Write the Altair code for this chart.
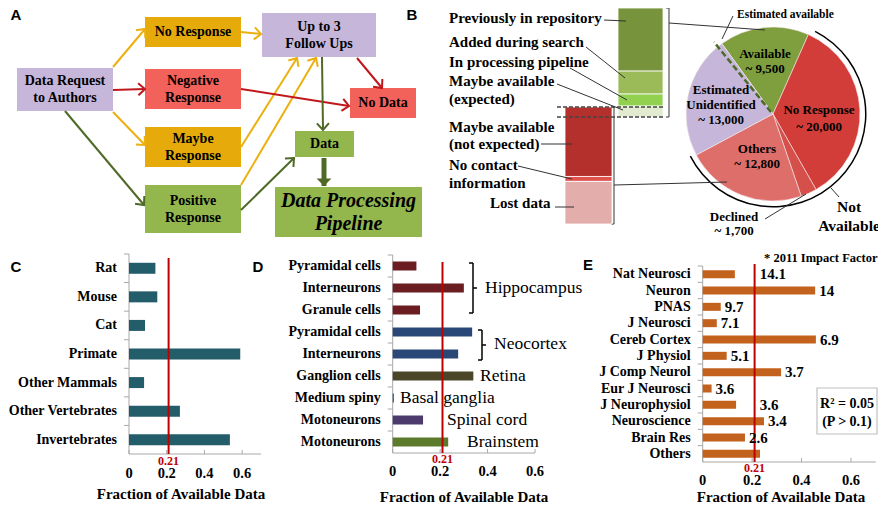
import math
import altair as alt
import pandas as pd

SERIF = "Liberation Serif"
SANS = "Liberation Sans"

# ------------------------------------------------------------------ data
c_species = ["Rat", "Mouse", "Cat", "Primate", "Other Mammals", "Other Vertebrates", "Invertebrates"]
c_fraction = [0.14, 0.15, 0.085, 0.59, 0.08, 0.27, 0.535]

d_cells = ["Pyramidal cells", "Interneurons", "Granule cells", "Pyramidal cells", "Interneurons",
           "Ganglion cells", "Medium spiny", "Motoneurons", "Motoneurons"]
d_region = ["Hippocampus", "Hippocampus", "Hippocampus", "Neocortex", "Neocortex",
            "Retina", "Basal ganglia", "Spinal cord", "Brainstem"]
d_fraction = [0.10, 0.30, 0.115, 0.335, 0.276, 0.34, 0.005, 0.128, 0.234]

e_journals = ["Nat Neurosci", "Neuron", "PNAS", "J Neurosci", "Cereb Cortex", "J Physiol",
              "J Comp Neurol", "Eur J Neurosci", "J Neurophysiol", "Neuroscience", "Brain Res", "Others"]
e_fraction = [0.13, 0.455, 0.073, 0.057, 0.458, 0.097, 0.317, 0.036, 0.135, 0.248, 0.171, 0.232]
e_impact = ["14.1", "14", "9.7", "7.1", "6.9", "5.1", "3.7", "3.6", "3.6", "3.4", "2.6", ""]
e_label_after_line = [True, False, False, False, False, False, False, False, True, False, False, False]

overall_fraction = 0.21
x_ticks = [0, 0.2, 0.4, 0.6]
x_tick_labels = ["0", "0.2", "0.4", "0.6"]

pie_groups = ["Available", "No Response", "Declined", "Others", "Estimated Unidentified"]
pie_counts = [9500, 20000, 1700, 12800, 13000]

avail_parts = ["Previously in repository", "Added during search", "In processing pipeline",
               "Maybe available (expected)"]
avail_counts = [5500, 2000, 1050, 950]
notavail_parts = ["Maybe available (not expected)", "No contact information", "Lost data"]
notavail_counts = [7600, 540, 4660]

# ------------------------------------------------------------------ styles
PURPLE, GOLD, RED, GREEN = "#c6b6d9", "#e6ab0b", "#f3625a", "#93b64d"
ARR_GOLD, ARR_RED, ARR_GREEN = "#ebb010", "#c0171d", "#4f6a27"
AXIS = "#a8a8a8"
LINE_RED = "#c00000"
c_color = "#245d6a"
d_region_color = {"Hippocampus": "#6b1d22", "Neocortex": "#2a4877", "Retina": "#4c4628",
                  "Basal ganglia": "#2d6272", "Spinal cord": "#4b3a6b", "Brainstem": "#5c7a2c"}
e_color = "#c3621d"
pie_colors = ["#7f9f3f", "#d23d39", "#d6504b", "#de6e6a", "#c6b7da"]
avail_colors = ["#77933c", "#9bbb59", "#92d050", "#e2ebd0"]
notavail_colors = ["#b3302d", "#e0504c", "#e2adab"]

# ------------------------------------------------------------------ canvas (page pixels)
PAGE = 8
W, H = 870, 498
PX = alt.Scale(domain=[PAGE, PAGE + W], range=[0, W], nice=False, zero=False)
PY = alt.Scale(domain=[PAGE, PAGE + H], range=[0, H], nice=False, zero=False)


def cx(f):
    return alt.X(f, scale=PX, axis=None)


def cy(f):
    return alt.Y(f, scale=PY, axis=None)


def text_layer(rows, size, weight="bold", style="normal", color="black", align="center", font=SERIF):
    df = pd.DataFrame(rows, columns=["t", "x", "y"])
    return alt.Chart(df).mark_text(fontSize=size, fontWeight=weight, fontStyle=style, color=color,
                                   align=align, baseline="middle", font=font).encode(
        x=cx("x:Q"), y=cy("y:Q"), text="t:N")


def rect_layer(rows, stroke=None, sw=1.0):
    df = pd.DataFrame(rows, columns=["x0", "x1", "y0", "y1", "fill"])
    mk = dict(strokeWidth=sw)
    if stroke:
        mk["stroke"] = stroke
    return alt.Chart(df).mark_rect(**mk).encode(
        x=cx("x0:Q"), x2="x1:Q", y=cy("y0:Q"), y2="y1:Q", fill=alt.Fill("fill:N", scale=None))


def rule_layer(rows, color="black", width=1.0, dash=None):
    df = pd.DataFrame(rows, columns=["x0", "y0", "x1", "y1"])
    mk = dict(color=color, strokeWidth=width)
    if dash:
        mk["strokeDash"] = dash
    return alt.Chart(df).mark_rule(**mk).encode(x=cx("x0:Q"), y=cy("y0:Q"), x2="x1:Q", y2="y1:Q")


def arrow_layers(rows, color, width=2.0, head=180, filled=False):
    df = pd.DataFrame(rows, columns=["x0", "y0", "x1", "y1"])
    df["ang"] = [(math.degrees(math.atan2(r.y1 - r.y0, r.x1 - r.x0)) + 360) % 360 for r in df.itertuples()]
    line = alt.Chart(df).mark_rule(color=color, strokeWidth=width).encode(
        x=cx("x0:Q"), y=cy("y0:Q"), x2="x1:Q", y2="y1:Q")
    shape = "M-1,-1L0,0L-1,1Z" if filled else "M-1,-0.9L0,0L-1,0.9"
    pm = dict(shape=shape, size=head, filled=filled, strokeWidth=width, opacity=1)
    if filled:
        pm["fill"] = color
    else:
        pm["stroke"] = color
    heads = alt.Chart(df).mark_point(**pm).encode(
        x=cx("x1:Q"), y=cy("y1:Q"), angle=alt.Angle("ang:Q", scale=None))
    return [line, heads]


# ---- panel A : flow chart
flow_nodes = [
    (["Data Request", "to Authors"], 17, 113, 68, 111, PURPLE),
    (["No Response"], 145, 241, 17, 47, GOLD),
    (["Negative", "Response"], 145, 241, 69, 109, RED),
    (["Maybe", "Response"], 145, 241, 127, 167, GOLD),
    (["Positive", "Response"], 145, 241, 185, 233, GREEN),
    (["Up to 3", "Follow Ups"], 262, 376, 13, 57, PURPLE),
    (["No Data"], 350, 416, 88, 118, RED),
    (["Data"], 295, 354, 131, 157, GREEN),
]
pipeline_node = (["Data Processing", "Pipeline"], 275, 422, 187, 237, GREEN)

box_rows = [(n[1], n[2], n[3], n[4], n[5]) for n in flow_nodes + [pipeline_node]]
node_text = []
for lines, x0, x1, y0, y1, _ in flow_nodes:
    for i, ln in enumerate(lines):
        node_text.append((ln, (x0 + x1) / 2, (y0 + y1) / 2 + (i - (len(lines) - 1) / 2) * 17))
pipe_text = []
lines, x0, x1, y0, y1, _ = pipeline_node
for i, ln in enumerate(lines):
    pipe_text.append((ln, (x0 + x1) / 2, (y0 + y1) / 2 + (i - 0.5) * 23))

gold_arrows = [(113, 67, 145, 29), (241, 32, 261, 34), (241, 147, 297, 58), (241, 185, 316, 58),
               (113, 112, 145, 145)]
red_arrows = [(113, 90, 145, 89), (241, 89, 349, 106), (357, 58, 382, 88)]
green_arrows = [(65, 111, 144, 205), (241, 210, 294, 158), (322, 57, 323, 130)]
thick_arrow = [(324, 158, 324, 186)]

# ---- panel B : annotations
b_left_labels = [("Previously in repository", 449, 18), ("Added during search", 449, 42),
                 ("In processing pipeline", 449, 62), ("Maybe available", 449, 81),
                 ("(expected)", 449, 99), ("Maybe available", 449, 127), ("(not expected)", 449, 144),
                 ("No contact", 449, 165), ("information", 449, 183)]
b_lost_label = [("Lost data", 490, 203)]
b_leaders = [(604, 20, 626, 21), (586, 47, 625, 78), (570, 68, 627, 100), (557, 84, 623, 110),
             (541, 144, 572, 144), (518, 166, 572, 179), (555, 207, 574, 207),
             (669, 23, 765, 30), (614, 185, 727, 182),
             (733, 16, 722, 39), (765, 219, 806, 194), (831, 188, 839, 197)]
b_brackets = [(669, 8, 669, 117), (666, 8, 669, 8), (666, 117, 669, 117),
              (614, 107, 614, 224), (611, 107, 614, 107), (611, 224, 614, 224)]
b_dashes = [(557, 107, 664, 107), (557, 117, 664, 117)]
pie_center = (773, 114)
pie_radius = 87
pie_text = [("Available", 765, 54), ("~ 9,500", 765, 69), ("No Response", 819, 110), ("~ 20,000", 819, 127),
            ("Estimated", 721, 90), ("Unidentified", 721, 105), ("~ 13,000", 721, 120),
            ("Others", 757, 149), ("~ 12,800", 757, 164), ("Declined", 734, 217), ("~ 1,700", 734, 231)]
est_avail_dash = [(771, 112, 714, 42)]

# ---- panel D / E annotations
d_region_labels = [("Hippocampus", 485, 288), ("Neocortex", 494, 344), ("Retina", 480, 376),
                   ("Basal ganglia", 400, 398), ("Spinal cord", 447, 420), ("Brainstem", 467, 442)]
d_brackets = [(473, 263, 473, 313), (469, 263, 473, 263), (469, 313, 473, 313), (473, 288, 477, 288),
              (482, 330, 482, 360), (478, 330, 482, 330), (478, 360, 482, 360), (482, 345, 486, 345)]
letters = [("A", 16, 15), ("B", 412, 15), ("C", 16, 267), ("D", 258, 267), ("E", 588, 265)]

canvas_bg = alt.layer(
    rect_layer(box_rows),
    *arrow_layers(gold_arrows, ARR_GOLD),
    *arrow_layers(red_arrows, ARR_RED),
    *arrow_layers(green_arrows, ARR_GREEN),
    *arrow_layers(thick_arrow, ARR_GREEN, width=5, head=220, filled=True),
    text_layer(node_text, 14),
    text_layer(pipe_text, 20, style="italic"),
    rule_layer(b_brackets, color="#555555", width=1.2),
    text_layer(b_left_labels, 15, align="left"),
    text_layer(b_lost_label, 15, align="left"),
    text_layer(letters, 15, font=SANS),
    rect_layer([(817, 877, 388, 434, "white")], stroke="#c0c0c0", sw=1.2),
    text_layer([("R\u00b2 = 0.05", 847, 404), ("(P > 0.1)", 847, 422)], 14),
    text_layer([("* 2011 Impact Factor", 764, 258)], 12.5, align="left"),
    rule_layer(d_brackets, color="black", width=1.5),
    text_layer(d_region_labels, 17.5, weight="normal", align="left"),
)

# ---- panel B : stacked columns and pie
gdf = pd.DataFrame({"part": avail_parts, "n": avail_counts, "ord": [3, 2, 1, 0], "col": avail_colors})
col_green = alt.Chart(gdf).transform_stack(
    stack="n", as_=["s0", "s1"], groupby=[], sort=[alt.SortField("ord", order="ascending")]
).mark_rect(stroke="white", strokeWidth=0.8).encode(
    x=alt.value(618 - PAGE), x2=alt.value(663 - PAGE),
    y=alt.Y("s0:Q", axis=None,
            scale=alt.Scale(domain=[0, sum(avail_counts)], range=[117 - PAGE, 8 - PAGE], nice=False, zero=False)),
    y2="s1:Q", fill=alt.Fill("col:N", scale=None))

rdf = pd.DataFrame({"part": notavail_parts, "n": notavail_counts, "ord": [2, 1, 0], "col": notavail_colors})
col_red = alt.Chart(rdf).transform_stack(
    stack="n", as_=["s0", "s1"], groupby=[], sort=[alt.SortField("ord", order="ascending")]
).mark_rect(stroke="white", strokeWidth=0.8).encode(
    x=alt.value(565 - PAGE), x2=alt.value(612 - PAGE),
    y=alt.Y("s0:Q", axis=None,
            scale=alt.Scale(domain=[0, sum(notavail_counts)], range=[224 - PAGE, 107 - PAGE], nice=False, zero=False)),
    y2="s1:Q", fill=alt.Fill("col:N", scale=None))

start = 2 * math.pi - math.radians(36)
pdf = pd.DataFrame({"group": pie_groups, "n": pie_counts, "ord": list(range(len(pie_groups))),
                    "col": pie_colors})
pie = alt.Chart(pdf).mark_arc(radius=pie_radius, stroke="#f4eaea", strokeWidth=0.6).encode(
    theta=alt.Theta("n:Q", stack=True, scale=alt.Scale(range=[start, start + 2 * math.pi])),
    order=alt.Order("ord:Q"), fill=alt.Fill("col:N", scale=None),
    x=alt.value(pie_center[0] - PAGE), y=alt.value(pie_center[1] - PAGE))

na_arc = alt.Chart(pd.DataFrame({"a": [0]})).mark_arc(
    theta=math.radians(27), theta2=math.radians(243), radius=93.5, radius2=92, color="black").encode(
    x=alt.value(pie_center[0] - PAGE), y=alt.value(pie_center[1] - PAGE))

canvas_fg = alt.layer(
    rule_layer(b_dashes, color="#444444", width=1.3, dash=[4, 2]),
    rule_layer(b_leaders, color="#333333", width=1.0),
    rule_layer(est_avail_dash, color="#4f6a27", width=2.5, dash=[6, 3]),
    text_layer(pie_text, 13),
    text_layer([("Estimated available", 737, 15)], 11.5, align="left"),
    text_layer([("Not", 849, 207), ("Available", 849, 226)], 15.5),
)


# ------------------------------------------------------------------ bar panels
def bar_panel(names, values, colors, xdom, xpx, ypx, bar_size, lab_size, tick_y, red_top, red_lab_y,
              title_x, title_y=497, extra=None):
    keys = [f"{i:02d}" for i in range(len(names))]
    xs = alt.Scale(domain=xdom, range=[xpx[0] - PAGE, xpx[1] - PAGE], nice=False, zero=False)
    ys = alt.Scale(domain=keys, range=[ypx[0] - PAGE, ypx[1] - PAGE], paddingInner=0, paddingOuter=0)
    top, bottom = ypx[0] - PAGE, ypx[1] - PAGE
    ax = xpx[0] - PAGE
    df = pd.DataFrame({"key": keys, "label": names, "v": values, "col": colors, "zero": 0.0,
                       "xmax": xdom[1]})

    def X(f):
        return alt.X(f, scale=xs, axis=None)

    def Y(f, **k):
        return alt.Y(f, scale=ys, axis=None, **k)

    bars = alt.Chart(df).mark_bar(size=bar_size).encode(
        x=X("v:Q"), x2="zero:Q", y=Y("key:N"), fill=alt.Fill("col:N", scale=None))
    labels = alt.Chart(df).mark_text(align="right", baseline="middle", dx=-12, font=SERIF,
                                     fontWeight="bold", fontSize=lab_size, color="black").encode(
        x=X("zero:Q"), y=Y("key:N"), text="label:N")
    yticks = alt.Chart(df).mark_rule(color=AXIS).encode(
        x=X("zero:Q"), x2=alt.value(ax - 5), y=Y("key:N", bandPosition=0))
    one = df.iloc[:1]
    yline = alt.Chart(one).mark_rule(color=AXIS).encode(x=X("zero:Q"), y=alt.value(top), y2=alt.value(bottom))
    xline = alt.Chart(one).mark_rule(color=AXIS).encode(x=X("zero:Q"), x2="xmax:Q", y=alt.value(bottom))
    tdf = pd.DataFrame({"t": x_ticks, "lab": x_tick_labels})
    xticks = alt.Chart(tdf).mark_rule(color=AXIS).encode(x=X("t:Q"), y=alt.value(bottom - 4),
                                                          y2=alt.value(bottom))
    xlabs = alt.Chart(tdf).mark_text(font=SERIF, fontWeight="bold", fontSize=14.5, baseline="middle",
                                     color="black").encode(
        x=X("t:Q"), y=alt.value(tick_y - PAGE), text="lab:N")
    red = pd.DataFrame({"t": [overall_fraction], "lab": [f"{overall_fraction:.2f}"]})
    rline = alt.Chart(red).mark_rule(color=LINE_RED, strokeWidth=2).encode(
        x=X("t:Q"), y=alt.value(red_top - PAGE), y2=alt.value(bottom))
    rlab = alt.Chart(red).mark_text(font=SERIF, fontWeight="bold", fontSize=12, color=LINE_RED,
                                    baseline="middle").encode(
        x=X("t:Q"), y=alt.value(red_lab_y - PAGE), text="lab:N")
    title = alt.Chart(red).mark_text(font=SERIF, fontWeight="bold", fontSize=15, color="black",
                                     baseline="middle").encode(
        x=alt.value(title_x - PAGE), y=alt.value(title_y - PAGE), text=alt.value("Fraction of Available Data"))
    layers = [yline, xline, yticks, xticks, bars, rline, labels, xlabs, rlab, title]
    if extra is not None:
        layers.append(extra(df, X, Y))
    return alt.layer(*layers)


def impact_labels(df, X, Y):
    df = df.copy()
    df["imp"] = e_impact
    df["lx"] = [overall_fraction + 0.005 if after else v for v, after in zip(e_fraction, e_label_after_line)]
    return alt.Chart(df).mark_text(align="left", baseline="middle", dx=4, font=SERIF, fontWeight="bold",
                                   fontSize=15, color="black").encode(
        x=X("lx:Q"), y=Y("key:N"), text="imp:N")


panel_c = bar_panel(c_species, c_fraction, [c_color] * len(c_species), [0, 0.7], [129, 261], [254, 454],
                    11, 14, 474, 258, 461, 181, 494)
panel_d = bar_panel(d_cells, d_fraction, [d_region_color[r] for r in d_region], [0, 0.6], [392.7, 535],
                    [255, 453], 9, 14, 472, 262, 459, 464, 497)
panel_e = bar_panel(e_journals, e_fraction, [e_color] * len(e_journals), [0, 0.7], [702.7, 875.7],
                    [266, 462], 8, 14, 481, 264, 468, 781, 497, extra=impact_labels)

chart = alt.layer(canvas_bg, col_green, col_red, pie, na_arc, canvas_fg, panel_c, panel_d, panel_e).resolve_scale(
    x="independent", y="independent"
).properties(
    width=W, height=H, padding=0, autosize=alt.AutoSizeParams(type="none"), background="white"
).configure_view(stroke=None)

chart.save("out.html", embed_options={"renderer": "svg", "actions": False})
